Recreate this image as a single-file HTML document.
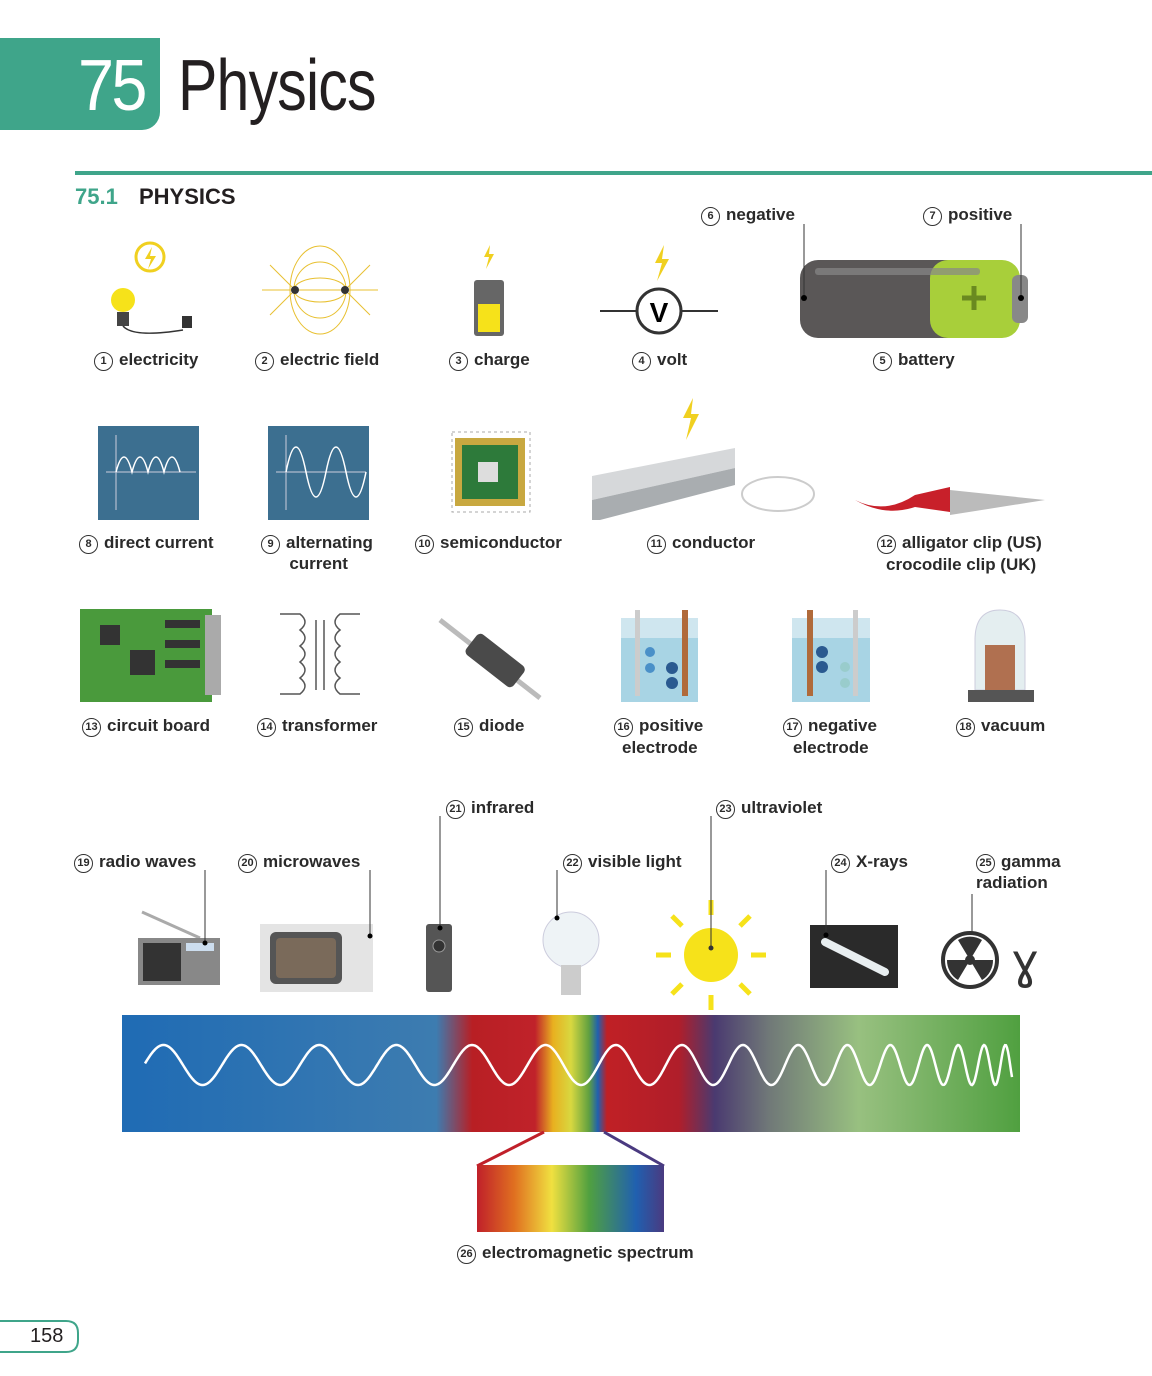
<!DOCTYPE html>
<html><head><meta charset="utf-8">
<style>
body{margin:0;background:#fff;}
#page{position:relative;width:1152px;height:1376px;overflow:hidden;font-family:"Liberation Sans",sans-serif;color:#231f20;}
.lbl{position:absolute;font-size:17px;font-weight:600;white-space:nowrap;line-height:20px;color:#2a2a2a;}
.num{display:inline-block;width:17px;height:17px;border:1.5px solid #333;border-radius:50%;font-size:11px;text-align:center;line-height:17px;margin-right:6px;vertical-align:1px;font-weight:bold;}
.ab{position:absolute;}
</style></head><body>
<div id="page">
  <div class="ab" style="left:0;top:38px;width:160px;height:92px;background:#3fa58a;border-radius:0 0 18px 0;"></div>
  <div class="ab" style="left:78px;top:46px;font-size:72px;color:#fff;letter-spacing:-3px;line-height:80px;transform:scaleX(0.9);transform-origin:left;">75</div>
  <div class="ab" style="left:178px;top:46px;font-size:72px;color:#231f20;line-height:80px;letter-spacing:-1px;transform:scaleX(0.82);transform-origin:left;">Physics</div>
  <div class="ab" style="left:75px;top:171px;width:1077px;height:4px;background:#3fa58a;"></div>
  <div class="ab" style="left:75px;top:184px;font-size:22px;color:#3fa58a;font-weight:bold;">75.1</div>
  <div class="ab" style="left:139px;top:184px;font-size:22px;font-weight:bold;">PHYSICS</div>

  <svg class="ab" style="left:0;top:0" width="1152" height="1376">
    <g>
      <circle cx="150" cy="257" r="14" fill="none" stroke="#f0d020" stroke-width="3"/>
      <path d="M152 247 l-7 12 h6 l-3 10 l8 -13 h-6z" fill="#f0d020"/>
      <circle cx="123" cy="300" r="12" fill="#f6e21a"/>
      <rect x="117" y="312" width="12" height="14" fill="#444"/>
      <path d="M123 326 q10 12 60 4" fill="none" stroke="#333" stroke-width="1.5"/>
      <rect x="182" y="316" width="10" height="12" fill="#333"/>
    </g>
    <g fill="none" stroke="#e8c030" stroke-width="1">
      <ellipse cx="320" cy="290" rx="26" ry="12"/><ellipse cx="320" cy="290" rx="26" ry="28"/><ellipse cx="320" cy="290" rx="30" ry="44"/>
      <line x1="262" y1="290" x2="378" y2="290"/>
      <line x1="270" y1="265" x2="295" y2="290"/><line x1="270" y1="315" x2="295" y2="290"/>
      <line x1="370" y1="265" x2="345" y2="290"/><line x1="370" y1="315" x2="345" y2="290"/>
      <circle cx="295" cy="290" r="4" fill="#333" stroke="none"/><circle cx="345" cy="290" r="4" fill="#333" stroke="none"/>
    </g>
    <g>
      <path d="M490 245 l-6 12 h5 l-3 12 l8 -15 h-5z" fill="#f0d020"/>
      <rect x="474" y="280" width="30" height="56" rx="3" fill="#666"/>
      <rect x="478" y="304" width="22" height="28" fill="#f6e21a"/>
    </g>
    <g>
      <path d="M664 245 l-9 18 h7 l-5 18 l12 -22 h-7z" fill="#f0d020"/>
      <line x1="600" y1="311" x2="718" y2="311" stroke="#333" stroke-width="2"/>
      <circle cx="659" cy="311" r="22" fill="#fff" stroke="#333" stroke-width="3"/>
      <text x="659" y="322" text-anchor="middle" font-size="28" font-weight="bold" font-family="Liberation Sans">V</text>
    </g>
    <g>
      <rect x="800" y="260" width="170" height="78" rx="18" fill="#5a5757"/>
      <rect x="930" y="260" width="90" height="78" rx="18" fill="#a8cf3a"/>
      <rect x="1012" y="275" width="16" height="48" rx="6" fill="#888"/>
      <rect x="815" y="268" width="165" height="7" rx="3" fill="#888" opacity="0.7"/>
      <path d="M962 298 h24 M974 286 v24" stroke="#6a8a20" stroke-width="5"/>
      <line x1="804" y1="224" x2="804" y2="298" stroke="#333"/><circle cx="804" cy="298" r="3"/>
      <line x1="1021" y1="224" x2="1021" y2="298" stroke="#333"/><circle cx="1021" cy="298" r="3"/>
    </g>
    <g>
      <rect x="98" y="426" width="101" height="94" fill="#3c6f90"/>
      <line x1="116" y1="435" x2="116" y2="510" stroke="#ccd" /><line x1="106" y1="472" x2="196" y2="472" stroke="#ccd"/>
      <path d="M116 472 q8 -30 16 0 q8 -30 16 0 q8 -30 16 0 q8 -30 16 0" fill="none" stroke="#fff" stroke-width="1.5"/>
    </g>
    <g>
      <rect x="268" y="426" width="101" height="94" fill="#3c6f90"/>
      <line x1="286" y1="435" x2="286" y2="510" stroke="#ccd"/><line x1="276" y1="472" x2="366" y2="472" stroke="#ccd"/>
      <path d="M286 472 q10 -50 20 0 t20 0 t20 0 t20 0" fill="none" stroke="#fff" stroke-width="1.5"/>
    </g>
    <g>
      <rect x="452" y="432" width="78" height="80" fill="#fff" stroke="#aaa" stroke-dasharray="3 3"/>
      <rect x="455" y="438" width="70" height="68" fill="#c8a840"/>
      <rect x="462" y="445" width="56" height="54" fill="#2d7a3a"/>
      <rect x="478" y="462" width="20" height="20" fill="#ddd"/>
    </g>
    <g>
      <path d="M693 398 l-10 20 h8 l-5 22 l13 -26 h-8z" fill="#f0d020"/>
      <path d="M592 476 L735 448 L735 468 L592 500 Z" fill="#d6d8da"/>
      <path d="M592 500 L735 468 L735 485 L600 520 L592 520 Z" fill="#a9adb0"/>
      <ellipse cx="778" cy="494" rx="36" ry="17" fill="none" stroke="#ccc" stroke-width="2"/>
    </g>
    <g>
      <path d="M855 500 q30 15 60 -5 l35 -8 l0 25 l-35 -5 q-30 10 -60 -7z" fill="#c8202a"/>
      <path d="M950 490 l95 10 l-95 15z" fill="#bbb"/>
    </g>
    <g>
      <rect x="80" y="609" width="132" height="93" fill="#4a9a3c"/>
      <rect x="205" y="615" width="16" height="80" fill="#aaa"/>
      <rect x="100" y="625" width="20" height="20" fill="#333"/><rect x="130" y="650" width="25" height="25" fill="#333"/>
      <rect x="165" y="620" width="35" height="8" fill="#333"/><rect x="165" y="640" width="35" height="8" fill="#333"/><rect x="165" y="660" width="35" height="8" fill="#333"/>
    </g>
    <g fill="none" stroke="#555" stroke-width="1.5">
      <path d="M280 614 h20 q10 8 0 16 q10 8 0 16 q10 8 0 16 q10 8 0 16 q10 8 0 16 h-20"/>
      <path d="M360 614 h-20 q-10 8 0 16 q-10 8 0 16 q-10 8 0 16 q-10 8 0 16 q-10 8 0 16 h20"/>
      <line x1="316" y1="620" x2="316" y2="690"/><line x1="324" y1="620" x2="324" y2="690"/>
    </g>
    <g>
      <line x1="440" y1="620" x2="540" y2="698" stroke="#bbb" stroke-width="5"/>
      <rect x="465" y="644" width="60" height="26" rx="5" fill="#4a4a4a" transform="rotate(38 490 659)"/>
    </g>
    <g>
      <rect x="621" y="618" width="77" height="84" fill="#cfe6ef"/>
      <rect x="621" y="638" width="77" height="64" fill="#a8d4e4"/>
      <rect x="635" y="610" width="5" height="86" fill="#ccc"/><rect x="682" y="610" width="6" height="86" fill="#b06a3a"/>
      <circle cx="650" cy="652" r="5" fill="#4a90c8"/><circle cx="650" cy="668" r="5" fill="#4a90c8"/>
      <circle cx="672" cy="668" r="6" fill="#2a5a90"/><circle cx="672" cy="683" r="6" fill="#2a5a90"/>
    </g>
    <g>
      <rect x="792" y="618" width="78" height="84" fill="#cfe6ef"/>
      <rect x="792" y="638" width="78" height="64" fill="#a8d4e4"/>
      <rect x="807" y="610" width="6" height="86" fill="#b06a3a"/><rect x="853" y="610" width="5" height="86" fill="#ccc"/>
      <circle cx="822" cy="652" r="6" fill="#2a5a90"/><circle cx="822" cy="667" r="6" fill="#2a5a90"/>
      <circle cx="845" cy="667" r="5" fill="#9cc"/><circle cx="845" cy="683" r="5" fill="#9cc"/>
    </g>
    <g>
      <path d="M975 690 v-50 q0 -30 25 -30 q25 0 25 30 v50z" fill="#e4eef0" stroke="#ccd"/>
      <rect x="985" y="645" width="30" height="45" fill="#b07050"/>
      <rect x="968" y="690" width="66" height="12" fill="#555"/>
    </g>
    <g>
      <line x1="142" y1="912" x2="200" y2="938" stroke="#aaa" stroke-width="3"/>
      <rect x="138" y="938" width="82" height="47" fill="#888"/>
      <rect x="143" y="943" width="38" height="38" fill="#333"/>
      <rect x="186" y="943" width="28" height="8" fill="#cde"/>
      <line x1="205" y1="870" x2="205" y2="943" stroke="#333"/><circle cx="205" cy="943" r="2.5"/>
    </g>
    <g>
      <rect x="260" y="924" width="113" height="68" fill="#e4e4e4"/>
      <rect x="270" y="932" width="72" height="52" rx="6" fill="#555"/>
      <rect x="276" y="938" width="60" height="40" rx="4" fill="#7a6a5a"/>
      <line x1="370" y1="870" x2="370" y2="936" stroke="#333"/><circle cx="370" cy="936" r="2.5"/>
    </g>
    <g>
      <rect x="426" y="924" width="26" height="68" rx="3" fill="#555"/>
      <circle cx="439" cy="946" r="6" fill="#333" stroke="#999"/>
      <line x1="440" y1="816" x2="440" y2="928" stroke="#333"/><circle cx="440" cy="928" r="2.5"/>
    </g>
    <g>
      <circle cx="571" cy="940" r="28" fill="#eef3f6" stroke="#ccd"/>
      <rect x="561" y="965" width="20" height="30" fill="#ccc"/>
      <line x1="557" y1="870" x2="557" y2="918" stroke="#333"/><circle cx="557" cy="918" r="2.5"/>
    </g>
    <g stroke="#f6e21a" stroke-width="5">
      <circle cx="711" cy="955" r="27" fill="#f6e21a" stroke="none"/>
      <line x1="711" y1="900" x2="711" y2="915"/><line x1="711" y1="995" x2="711" y2="1010"/>
      <line x1="656" y1="955" x2="671" y2="955"/><line x1="751" y1="955" x2="766" y2="955"/>
      <line x1="672" y1="916" x2="682" y2="926"/><line x1="740" y1="984" x2="750" y2="994"/>
      <line x1="750" y1="916" x2="740" y2="926"/><line x1="682" y1="984" x2="672" y2="994"/>
      <line x1="711" y1="816" x2="711" y2="948" stroke="#333" stroke-width="1"/>
    </g>
    <circle cx="711" cy="948" r="2.5" fill="#333"/>
    <g>
      <rect x="810" y="925" width="88" height="63" fill="#2a2a2a"/>
      <line x1="825" y1="942" x2="885" y2="972" stroke="#e8eef0" stroke-width="8" stroke-linecap="round"/>
      <line x1="826" y1="870" x2="826" y2="935" stroke="#333"/><circle cx="826" cy="935" r="2.5"/>
    </g>
    <g>
      <circle cx="970" cy="960" r="27" fill="#fff" stroke="#333" stroke-width="4"/>
      <circle cx="970" cy="960" r="5" fill="#333"/>
      <path d="M970 960 L958 940 A23 23 0 0 1 982 940 Z M970 960 L993 960 A23 23 0 0 1 982 980Z M970 960 L958 980 A23 23 0 0 1 947 960Z" fill="#333"/>
      <text x="1025" y="978" text-anchor="middle" font-size="48" font-family="DejaVu Sans" fill="#333">ɣ</text>
      <line x1="972" y1="894" x2="972" y2="932" stroke="#333"/>
    </g>
    <defs>
      <linearGradient id="spec" x1="0" x2="1">
        <stop offset="0" stop-color="#1f6bb4"/><stop offset="0.35" stop-color="#3d7cb0"/>
        <stop offset="0.39" stop-color="#b81f24"/><stop offset="0.46" stop-color="#c0222a"/>
        <stop offset="0.48" stop-color="#e8b020"/><stop offset="0.50" stop-color="#d8d840"/>
        <stop offset="0.52" stop-color="#60a040"/><stop offset="0.53" stop-color="#2060b0"/>
        <stop offset="0.54" stop-color="#c02025"/><stop offset="0.62" stop-color="#b01e2a"/>
        <stop offset="0.66" stop-color="#4a3a70"/><stop offset="0.72" stop-color="#707878"/>
        <stop offset="0.82" stop-color="#98c080"/><stop offset="1" stop-color="#50a040"/>
      </linearGradient>
      <linearGradient id="vis" x1="0" x2="1">
        <stop offset="0" stop-color="#c0202a"/><stop offset="0.2" stop-color="#e07020"/>
        <stop offset="0.4" stop-color="#f0e040"/><stop offset="0.6" stop-color="#50a040"/>
        <stop offset="0.85" stop-color="#2060b0"/><stop offset="1" stop-color="#4a3a80"/>
      </linearGradient>
    </defs>
    <rect x="122" y="1015" width="898" height="117" fill="url(#spec)"/>
    <path id="wave" fill="none" stroke="#fff" stroke-width="2.5"/>
    <path d="M544 1132 L477 1166" stroke="#c0202a" stroke-width="3"/>
    <path d="M604 1132 L664 1166" stroke="#4a3a80" stroke-width="3"/>
    <rect x="477" y="1165" width="187" height="67" fill="url(#vis)"/>
    <path d="M0 1321 H66 Q78 1321 78 1333 V1340 Q78 1352 66 1352 H0" fill="none" stroke="#3fa58a" stroke-width="2"/>
  </svg>
  <div class="ab" style="left:30px;top:1325px;font-size:20px;">158</div>

  <div class="lbl" style="left:94px;top:350px"><span class="num">1</span>electricity</div>
  <div class="lbl" style="left:255px;top:350px"><span class="num">2</span>electric field</div>
  <div class="lbl" style="left:449px;top:350px"><span class="num">3</span>charge</div>
  <div class="lbl" style="left:632px;top:350px"><span class="num">4</span>volt</div>
  <div class="lbl" style="left:873px;top:350px"><span class="num">5</span>battery</div>
  <div class="lbl" style="left:701px;top:205px"><span class="num">6</span>negative</div>
  <div class="lbl" style="left:923px;top:205px"><span class="num">7</span>positive</div>
  <div class="lbl" style="left:79px;top:533px"><span class="num">8</span>direct current</div>
  <div class="lbl" style="left:261px;top:533px"><span class="num">9</span>alternating<br>&nbsp;&nbsp;&nbsp;&nbsp;&nbsp;&nbsp;current</div>
  <div class="lbl" style="left:415px;top:533px"><span class="num">10</span>semiconductor</div>
  <div class="lbl" style="left:647px;top:533px"><span class="num">11</span>conductor</div>
  <div class="lbl" style="left:877px;top:533px"><span class="num">12</span>alligator clip (US)</div>
  <div class="lbl" style="left:886px;top:555px">crocodile clip (UK)</div>
  <div class="lbl" style="left:82px;top:716px"><span class="num">13</span>circuit board</div>
  <div class="lbl" style="left:257px;top:716px"><span class="num">14</span>transformer</div>
  <div class="lbl" style="left:454px;top:716px"><span class="num">15</span>diode</div>
  <div class="lbl" style="left:614px;top:716px"><span class="num">16</span>positive</div>
  <div class="lbl" style="left:622px;top:738px">electrode</div>
  <div class="lbl" style="left:783px;top:716px"><span class="num">17</span>negative</div>
  <div class="lbl" style="left:793px;top:738px">electrode</div>
  <div class="lbl" style="left:956px;top:716px"><span class="num">18</span>vacuum</div>
  <div class="lbl" style="left:74px;top:852px"><span class="num">19</span>radio waves</div>
  <div class="lbl" style="left:238px;top:852px"><span class="num">20</span>microwaves</div>
  <div class="lbl" style="left:446px;top:798px"><span class="num">21</span>infrared</div>
  <div class="lbl" style="left:563px;top:852px"><span class="num">22</span>visible light</div>
  <div class="lbl" style="left:716px;top:798px"><span class="num">23</span>ultraviolet</div>
  <div class="lbl" style="left:831px;top:852px"><span class="num">24</span>X-rays</div>
  <div class="lbl" style="left:976px;top:852px"><span class="num">25</span>gamma<br>radiation</div>
  <div class="lbl" style="left:457px;top:1243px"><span class="num">26</span>electromagnetic spectrum</div>
</div>
<script>
var w=document.getElementById('wave');var d='';var ph=0;
for(var x=145;x<=1012;x+=1){var t=(x-145)/867;ph+=2*Math.PI/(78-60*t*t*t);var y=1065-Math.sin(ph)*20;d+=(x==145?'M':'L')+x+' '+y.toFixed(1);}
w.setAttribute('d',d);
</script>
</body></html>
